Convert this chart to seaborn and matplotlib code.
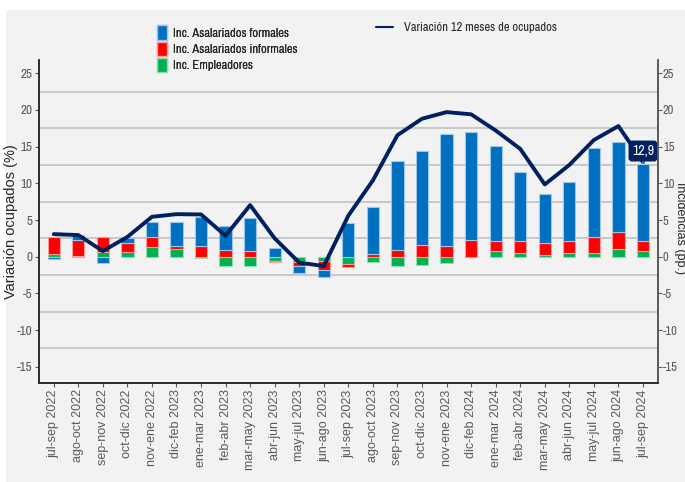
import numpy as np
import matplotlib
matplotlib.use("Agg")
import matplotlib.pyplot as plt
import seaborn as sns
from matplotlib.patches import Patch, Rectangle
from matplotlib.lines import Line2D

periods = ["jul-sep 2022", "ago-oct 2022", "sep-nov 2022", "oct-dic 2022",
           "nov-ene 2022", "dic-feb 2023", "ene-mar 2023", "feb-abr 2023",
           "mar-may 2023", "abr-jun 2023", "may-jul 2023", "jun-ago 2023",
           "jul-sep 2023", "ago-oct 2023", "sep-nov 2023", "oct-dic 2023",
           "nov-ene 2023", "dic-feb 2024", "ene-mar 2024", "feb-abr 2024",
           "mar-may 2024", "abr-jun 2024", "may-jul 2024", "jun-ago 2024",
           "jul-sep 2024"]

formales = [-0.36, 0.68, -0.9, 0.69, 2.09, 3.27, 3.94, 3.22, 4.57, 1.22,
            -1.05, -0.86, 4.6, 6.45, 12.09, 12.81, 15.28, 14.73, 13.01, 9.41,
            6.72, 8.02, 12.12, 12.2, 10.51]
informales = [2.36, 2.17, 2.04, 1.21, 1.36, 0.4, 1.5, 0.95, 0.73, -0.14,
              -0.54, -1.27, -0.41, 0.34, 0.91, 1.59, 1.5, 2.27, 1.32, 1.59,
              1.58, 1.63, 2.22, 2.4, 1.36]
empleadores = [0.36, 0.1, 0.68, 0.6, 1.27, 1.0, -0.2, -1.22, -1.27, -0.63,
               -0.68, -0.59, -0.95, -0.65, -1.22, -1.13, -0.81, 0.03, 0.77, 0.5,
               0.28, 0.55, 0.46, 1.0, 0.73]
variacion = [3.08, 2.95, 0.77, 2.7, 5.44, 5.8, 5.76, 2.86, 7.03, 2.5,
             -0.8, -1.27, 5.6, 10.4, 16.56, 18.8, 19.7, 19.4, 17.2, 14.7,
             9.85, 12.5, 15.9, 17.8, 12.9]

label_ultimo = "12,9"

BG = "#f2f2f2"
AZUL = "#0070c0"
ROJO = "#ff0000"
VERDE = "#00b050"
NAVY = "#002060"
GRIS = "#595959"
NARROW = ["Archivo Narrow", "Roboto Condensed", "DejaVu Sans"]

sns.set_theme(style="white")
plt.rcParams["font.family"] = ["Liberation Sans", "DejaVu Sans"]

fig = plt.figure(figsize=(6.85, 4.82), dpi=100)
fig.patch.set_facecolor(BG)
# thin white margin on top and left, as in the original export
fig.add_artist(Rectangle((0, 1 - 10 / 482), 1, 10 / 482, transform=fig.transFigure,
                         facecolor="white", edgecolor="none", zorder=-5))
fig.add_artist(Rectangle((0, 0), 6 / 685, 1, transform=fig.transFigure,
                         facecolor="white", edgecolor="none", zorder=-5))
ax = fig.add_axes([39 / 685, 1 - 383 / 482, (657.7 - 39) / 685, (383 - 60) / 482])
ax.set_facecolor(BG)

# diverging stacking: employers nearest zero, then informal, then formal
capas = [(empleadores, VERDE, "#8fdcb0"),
         (informales, ROJO, "#ff9a9a"),
         (formales, AZUL, "#9cc6ea")]
pos_base = np.zeros(len(periods))
neg_base = np.zeros(len(periods))
for vals, color, edge in capas:
    vals = np.asarray(vals, dtype=float)
    bottom = np.where(vals >= 0, pos_base, neg_base)
    sns.barplot(x=periods, y=vals, bottom=bottom, color=color, width=0.5,
                errorbar=None, edgecolor=edge, linewidth=0.8, saturation=1,
                ax=ax, zorder=2)
    pos_base = pos_base + np.clip(vals, 0, None)
    neg_base = neg_base + np.clip(vals, None, 0)

sns.lineplot(x=np.arange(len(periods)), y=variacion, color=NAVY, linewidth=2.8,
             ax=ax, zorder=4)

ylim = (-17.2, 26.8)
yt = np.arange(-15, 26, 5)
ax.set_xlim(-0.6, 24.6)
ax.set_ylim(*ylim)
ax.set_yticks(yt)
ax.set_yticklabels([str(v) for v in yt], family=NARROW, fontsize=9.5, color=GRIS)
ax.set_yticks(np.arange(-12.5, 25, 5), minor=True)
ax.yaxis.grid(True, which="minor", color="#c0c0c0", linewidth=1.2, zorder=0)
ax.set_axisbelow(True)
ax.set_xticks(range(len(periods)))
ax.set_xticklabels(periods, rotation=90, fontsize=9, color=GRIS)
ax.tick_params(axis="both", which="major", direction="out", length=3,
               width=0.8, color=GRIS, left=True, bottom=True, pad=1.5)
ax.tick_params(axis="y", which="minor", length=0)
ax.set_xlabel("")
ax.set_ylabel("Variación ocupados (%)", fontsize=10.5, color="#262626")
ax.yaxis.label.set_verticalalignment("center")
ax.yaxis.set_label_coords(-0.046, 0.5)
for s in ["left", "right", "bottom"]:
    ax.spines[s].set_color(GRIS)
    ax.spines[s].set_linewidth(1.2)
ax.spines["top"].set_visible(False)

ax2 = ax.twinx()
ax2.set_ylim(*ylim)
ax2.set_yticks(yt)
ax2.set_yticklabels([str(v) for v in yt], family=NARROW, fontsize=9, color=GRIS)
ax2.tick_params(axis="y", direction="out", length=3, width=0.8, color=GRIS,
                right=True, pad=0.8)
ax2.grid(False)
ax2.spines["top"].set_visible(False)
ax2.spines["right"].set_color(GRIS)
ax2.spines["right"].set_linewidth(1.2)
ax2.set_ylabel("Incidencias (pp.)", fontsize=9, color="#262626", rotation=270)
ax2.yaxis.label.set_verticalalignment("center")
ax2.yaxis.set_label_coords(1.0355, 0.48)

# label for the last point
ax.annotate(label_ultimo, xy=(24, 12.7), xytext=(24, 14.4), ha="center",
            va="center", fontsize=10, color="white", family=NARROW, zorder=6,
            bbox=dict(boxstyle="round,pad=0.2", facecolor=NAVY, edgecolor=NAVY),
            arrowprops=dict(arrowstyle="-", color="#8faadc", lw=0.8))

h_bars = [Patch(facecolor=AZUL, edgecolor="#9cc6ea", label="Inc. Asalariados formales"),
          Patch(facecolor=ROJO, edgecolor="#ff9a9a", label="Inc. Asalariados informales"),
          Patch(facecolor=VERDE, edgecolor="#8fdcb0", label="Inc. Empleadores")]
leg1 = fig.legend(handles=h_bars, loc="upper left",
                  bbox_to_anchor=(151 / 685, 1 - 19 / 482), frameon=False,
                  prop={"family": NARROW, "size": 9}, handlelength=0.8,
                  handleheight=1.4, handletextpad=0.45, labelspacing=0.15,
                  borderpad=0, labelcolor="#262626")
h_line = [Line2D([0], [0], color=NAVY, lw=1.5, label="Variación 12 meses de ocupados")]
fig.legend(handles=h_line, loc="upper left", bbox_to_anchor=(370 / 685, 1 - 16 / 482),
           frameon=False, prop={"family": NARROW, "size": 9}, handlelength=1.3,
           handletextpad=0.9, borderpad=0, labelcolor="#262626")
fig.add_artist(leg1)

fig.savefig("out.png", dpi=100, facecolor=fig.get_facecolor())
